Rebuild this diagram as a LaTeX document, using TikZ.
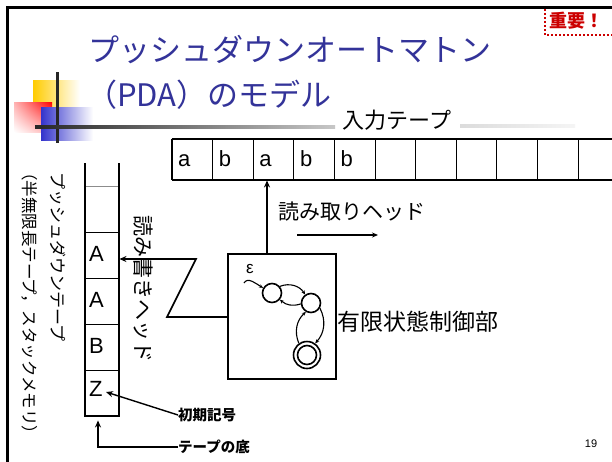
\documentclass[tikz,border=0pt]{standalone}
\usepackage{fontspec}
\setmainfont{Noto Sans CJK JP}
\newfontfamily\lat{Liberation Sans}
\usetikzlibrary{arrows.meta,calc,shadings}
\definecolor{ttl}{HTML}{333399}
\definecolor{imp}{HTML}{CC0000}
\definecolor{dyel}{HTML}{FFCC00}
\definecolor{dblu}{HTML}{3333CC}
\newcommand\fsz[1]{\fontsize{#1}{#1}\selectfont}
\tikzset{
  title/.style={text=ttl, font=\fsz{31}, inner sep=0pt},
  lbl/.style={font=\fsz{21}, inner sep=0pt},
  blab/.style={font=\fsz{14.5}\bfseries, inner sep=0pt},
  sym/.style={font=\lat\fsz{22}, inner sep=0pt},
  cell/.style={draw, line width=0.9pt, minimum width=40.6pt, minimum height=41pt, inner sep=0pt},
  scell/.style={draw, line width=0.9pt, minimum width=34pt, minimum height=46pt, inner sep=0pt},
  arr/.style={line width=1.6pt, -{Stealth[length=7pt,width=6pt]}},
  sarr/.style={line width=1.1pt, -{Stealth[length=4pt,width=3.5pt]}},
  st/.style={circle, draw, line width=1.6pt, minimum size=19pt, inner sep=0pt},
}
\begin{document}
\begin{tikzpicture}[x=1pt,y=-1pt]
\useasboundingbox (0,0) rectangle (612,461);
\fill[white] (0,0) rectangle (612,461);
% frame
\draw[line width=3pt] (7,470) -- (7,7) -- (620,7);
% decoration
\shade[left color=dyel, middle color=dyel, right color=white] (33,80) rectangle (80,108);
\shade[upper right=red, upper left=red!30, lower right=red!30, lower left=white] (14,102) rectangle (52,132);
\shade[left color=dblu, middle color=dblu, right color=white] (41,107) rectangle (93,140);
\fill[black!85] (55.5,72) rectangle (58.5,143);
\shade[left color=black!85, right color=black!22] (35,125.5) rectangle (335,128.5);
\shade[left color=black!14, right color=black!4] (460,124) rectangle (575,127);
% title
\node[title, anchor=west] (tl1) at (88,50) {プッシュダウンオートマトン};
\node[title, anchor=west] (tl2) at (86,95) {（PDA）のモデル};
% important
\draw[imp, dotted, line width=2pt] (545,9) -- (545,35) -- (620,35);
\node[text=imp, font=\fsz{18}\bfseries, anchor=west, inner sep=0pt] (impt) at (549,21) {重要！};
% input tape
\foreach \i in {0,...,10} \node[cell] (c\i) at ({192.3+40.6*\i},159.5) {};
\draw[line width=2pt] (c0.north west) -- (c10.north east);
\draw[line width=2pt] (c0.south west) -- (c10.south east);
\draw[line width=2pt] (c0.north west) -- (c0.south west);
\node[sym, anchor=base west] (ta1) at (178,166) {a};
\node[sym, anchor=base west] (ta2) at (218.6,166) {b};
\node[sym, anchor=base west] (ta3) at (259.2,166) {a};
\node[sym, anchor=base west] (ta4) at (299.8,166) {b};
\node[sym, anchor=base west] (ta5) at (340.4,166) {b};
\node[font=\fsz{22}, inner sep=0pt] (inlab) at (397,120) {入力テープ};
% finite control
\node[draw, line width=2.5pt, minimum width=108pt, minimum height=125pt] (fsm) at (282,316.5) {};
\coordinate (hd) at (267,254);
\draw[arr] (hd) -- (hd |- c2.south);
\node[lbl, anchor=west] (rh) at (278,212) {読み取りヘッド};
\coordinate (ra1) at (297,235);
\coordinate (ra2) at (378,235);
\draw[line width=1.6pt, -{Stealth[length=6pt,width=5pt]}] (ra1) -- (ra2);
\node[font=\fsz{23}, inner sep=0pt, anchor=west] (fl) at (337,322) {有限状態制御部};
% automaton
\node[st] (q1) at (272,293) {};
\node[st] (q2) at (311,303) {};
\node[st, minimum size=27pt] (q3) at (307,355) {};
\node[st, minimum size=19pt] (q3i) at (q3) {};
\node[font=\lat\fsz{17}, inner sep=0pt] (eps) at (250,269) {ε};
\coordinate (init) at (244,283);
\draw[sarr] (init) to[out=60, in=150] (q1.150);
\draw[sarr] (q1.40) to[bend left=40] (q2.125);
\draw[sarr] (q2.185) to[bend left=30] (q1.320);
\draw[sarr] (q2.330) to[bend left=35] (q3.55);
\draw[sarr] (q3.125) to[bend left=35] (q2.240);
% stack
\node[scell, draw=black!45] (s0) at (102,209.5) {};
\node[scell] (s1) at (102,255) {};
\node[scell] (s2) at (102,301) {};
\node[scell] (s3) at (102,347) {};
\node[scell] (s4) at (102,393) {};
\draw[line width=1.6pt] (85,163) -- (85,416) -- (119,416) -- (119,163);
\node[sym, anchor=base west] (sa1) at (89,261) {A};
\node[sym, anchor=base west] (sa2) at (89,307) {A};
\node[sym, anchor=base west] (sa3) at (89,353) {B};
\node[sym, anchor=base west] (sa4) at (89,396) {Z};
% zigzag read/write head
\coordinate (z1) at (167,317);
\coordinate (z2) at (196,259);
\draw[arr] (fsm.west |- z1) -- (z1) -- (z2) -- ($(s1.east)+(0,4)$);
% vertical labels
\node[font=\fsz{17}, inner sep=0pt, rotate=-90, anchor=west] (pdt) at (58,172) {プッシュダウンテープ};
\node[font=\fsz{16.5}, inner sep=0pt, rotate=-90, anchor=west] (pdt2) at (30,164) {（半無限長テープ，スタックメモリ）};
\node[lbl, rotate=-90, anchor=west] (rwh) at (143,215) {読み書きヘッド};
% bottom labels
\node[blab, anchor=west] (isym) at (178,415) {初期記号};
\coordinate (ztip) at (106,392);
\draw[arr, line width=1.4pt] (isym.west) -- (ztip);
\node[blab, anchor=west] (bot) at (178,447) {テープの底};
\draw[arr, line width=1.4pt] (bot.west) -| ([xshift=-4pt, yshift=-4pt]s4.south);
% page number
\node[font=\lat\fsz{11}, inner sep=0pt] (pg) at (591,444) {19};
\end{tikzpicture}
\end{document}
